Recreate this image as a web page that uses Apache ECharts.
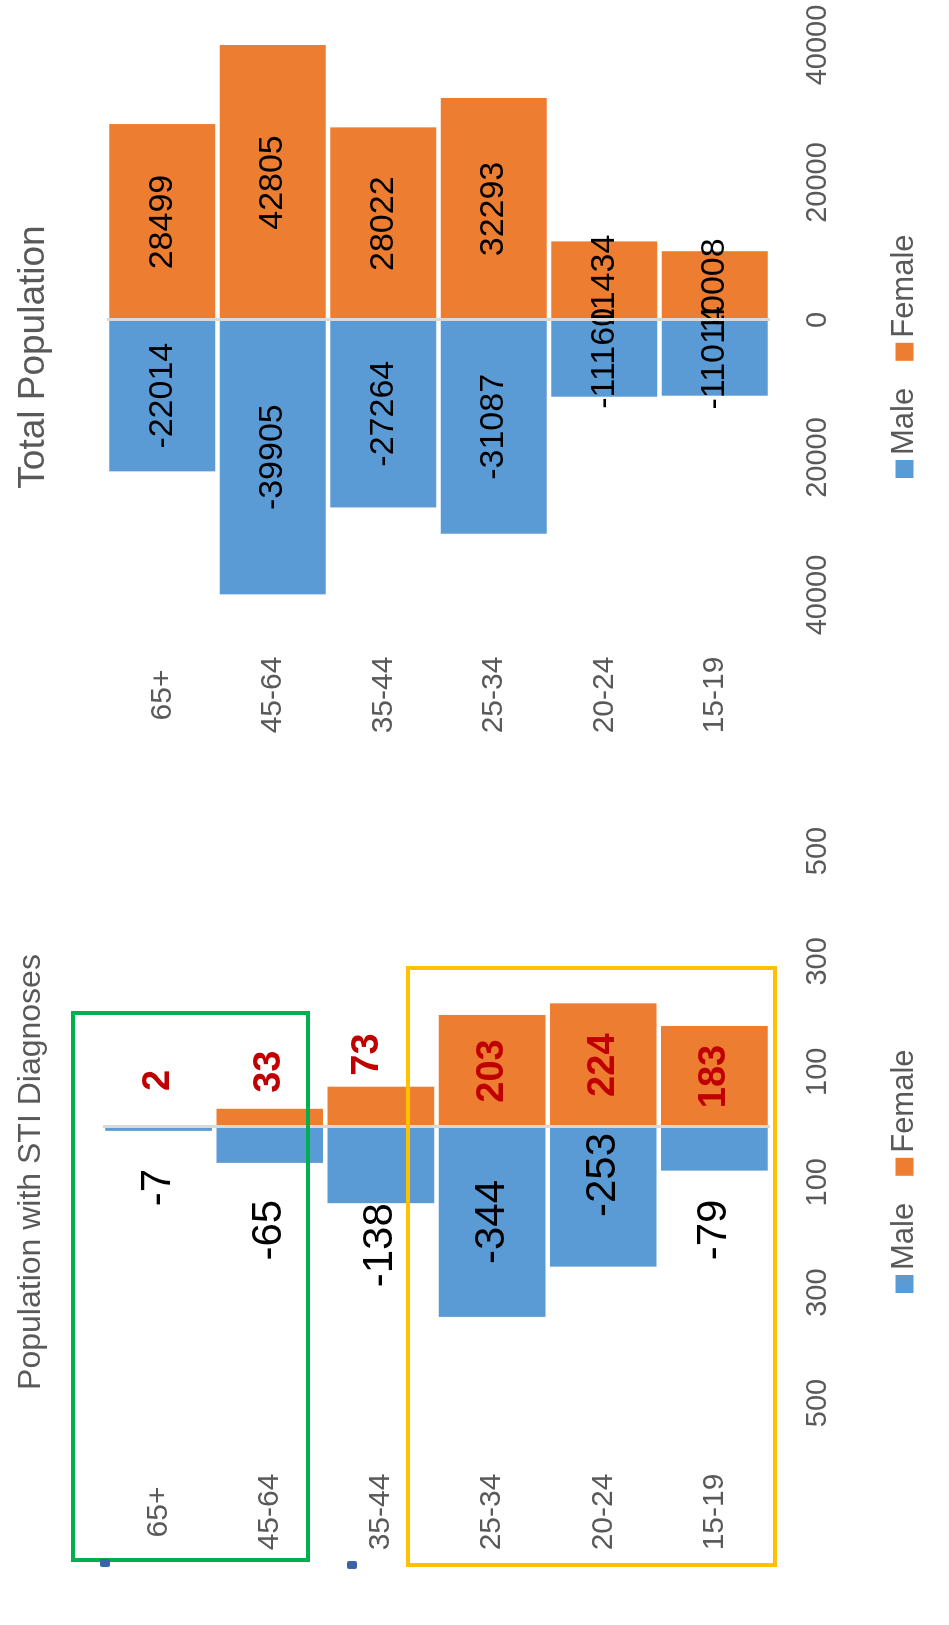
<!DOCTYPE html>
<html>
<head>
<meta charset="utf-8">
<script src="https://cdn.jsdelivr.net/npm/echarts@6/dist/echarts.min.js"></script>
<style>
html,body{margin:0;padding:0;width:949px;height:1625px;overflow:hidden;background:#fff;}
#wrap{position:absolute;left:0;top:0;width:1625px;height:949px;transform-origin:0 0;transform:translate(0,1625px) rotate(-90deg);}
</style>
</head>
<body>
<div id="wrap"></div>
<script>
// Categories (bottom to top of each pyramid)
const categories = ['15-19', '20-24', '25-34', '35-44', '45-64', '65+'];

// Population with STI Diagnoses
const stiMale   = [-79, -253, -344, -138, -65, -7];
const stiFemale = [183, 224, 203, 73, 33, 2];

// Total Population
const totMale   = [-11014, -11160, -31087, -27264, -39905, -22014];
const totFemale = [10008, 11434, 32293, 28022, 42805, 28499];

// Tick settings
const stiTicks = {min: -500, max: 500, interval: 200};
const totTicks = {min: -40000, max: 40000, interval: 20000};

// Label placement styles (not data)
const stiMaleLabel = [
  {position: 'left', distance: 29},
  {position: 'insideRight', distance: 6},
  {position: 'inside'},
  {position: 'left', distance: 0},
  {position: 'left', distance: 37},
  {position: 'left', distance: 38}
];
const stiFemaleLabel = [
  {position: 'inside'},
  {position: 'inside'},
  {position: 'inside'},
  {position: 'right', distance: 11, offset: [0, -13]},
  {position: 'right', distance: 16},
  {position: 'right', distance: 35}
];

const FONT = '"Liberation Sans", Arial, sans-serif';
const BLUE = '#5B9BD5', ORANGE = '#ED7D31', GRAY = '#595959';

const chart = echarts.init(document.getElementById('wrap'));

const absFmt = v => String(Math.abs(v));
const zeroLine = {
  silent: true, symbol: 'none', label: {show: false},
  lineStyle: {color: '#D9D9D9', width: 3, type: 'solid'},
  data: [{xAxis: 0}]
};

function valueAxis(grid, t) {
  return {
    type: 'value', gridIndex: grid, min: t.min, max: t.max, interval: t.interval,
    axisLine: {show: false}, axisTick: {show: false}, splitLine: {show: false},
    axisLabel: {formatter: absFmt, color: GRAY, fontSize: 29, fontFamily: FONT, margin: 33}
  };
}
function catAxis(grid, margin) {
  return {
    type: 'category', gridIndex: grid, data: categories,
    axisLine: {show: false}, axisTick: {show: false},
    axisLabel: {color: GRAY, fontSize: 30, fontFamily: FONT, align: 'center', margin: margin}
  };
}

const legendBase = {
  data: ['Male', 'Female'], icon: 'rect', itemWidth: 18, itemHeight: 18,
  itemGap: 27, textStyle: {color: GRAY, fontSize: 31, fontFamily: FONT}
};

const option = {
  backgroundColor: '#fff',
  animation: false,
  textStyle: {fontFamily: FONT},
  title: [
    {text: 'Population with STI Diagnoses', left: 448, top: 10, textAlign: 'center',
     textStyle: {color: GRAY, fontSize: 32, fontWeight: 'normal', fontFamily: FONT}},
    {text: 'Total Population', left: 1263, top: 10, textAlign: 'center',
     textStyle: {color: GRAY, fontSize: 37, fontWeight: 'normal', fontFamily: FONT}}
  ],
  legend: [
    Object.assign({left: 327, top: 884}, legendBase),
    Object.assign({left: 1142, top: 884}, legendBase)
  ],
  grid: [
    {left: 222, width: 552, top: 103, height: 667},
    {left: 1030, width: 550, top: 107, height: 663}
  ],
  xAxis: [valueAxis(0, stiTicks), valueAxis(1, totTicks)],
  yAxis: [catAxis(0, 109), catAxis(1, 100)],
  series: [
    {
      name: 'Male', type: 'bar', xAxisIndex: 0, yAxisIndex: 0,
      barGap: '-100%', barCategoryGap: '4%',
      itemStyle: {color: BLUE},
      label: {show: true, color: '#000', fontSize: 42, fontFamily: FONT},
      data: stiMale.map((v, i) => ({value: v, label: stiMaleLabel[i]})),
      markLine: zeroLine
    },
    {
      name: 'Female', type: 'bar', xAxisIndex: 0, yAxisIndex: 0,
      barGap: '-100%', barCategoryGap: '4%',
      itemStyle: {color: ORANGE},
      label: {show: true, color: '#C00000', fontSize: 38, fontWeight: 'bold', fontFamily: FONT},
      data: stiFemale.map((v, i) => ({value: v, label: stiFemaleLabel[i]}))
    },
    {
      name: 'Male', type: 'bar', xAxisIndex: 1, yAxisIndex: 1,
      barGap: '-100%', barCategoryGap: '4%',
      itemStyle: {color: BLUE},
      label: {show: true, position: 'inside', color: '#000', fontSize: 34, fontFamily: FONT},
      data: totMale,
      markLine: zeroLine
    },
    {
      name: 'Female', type: 'bar', xAxisIndex: 1, yAxisIndex: 1,
      barGap: '-100%', barCategoryGap: '4%',
      itemStyle: {color: ORANGE},
      label: {show: true, position: 'inside', color: '#000', fontSize: 34, fontFamily: FONT},
      data: totFemale
    }
  ],
  graphic: [
    {type: 'rect', shape: {x: 65, y: 73, width: 547, height: 235},
     style: {fill: 'none', stroke: '#00B050', lineWidth: 4}, z: 100},
    {type: 'rect', shape: {x: 60, y: 408, width: 597, height: 367},
     style: {fill: 'none', stroke: '#FFC000', lineWidth: 4}, z: 100},
    {type: 'rect', shape: {x: 58, y: 100, width: 8, height: 10, r: 2},
     style: {fill: '#3B64A8'}, z: 101},
    {type: 'rect', shape: {x: 56, y: 347, width: 8, height: 10, r: 2},
     style: {fill: '#3B64A8'}, z: 101}
  ]
};
chart.setOption(option);
</script>
</body>
</html>
